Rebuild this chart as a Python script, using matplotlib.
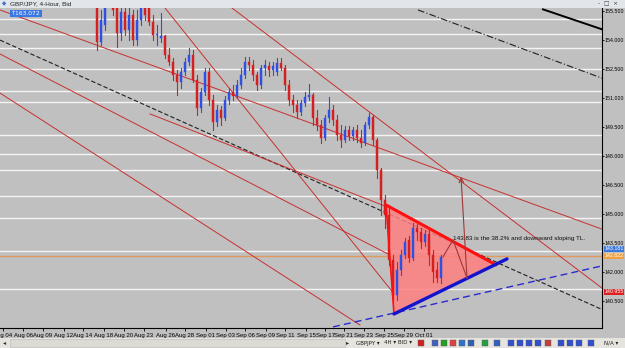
import matplotlib
matplotlib.use("Agg")
import matplotlib.pyplot as plt
from matplotlib.patches import Polygon, Rectangle
from matplotlib.transforms import blended_transform_factory
import numpy as np

# ---------------- data ----------------
opens  = [157.00,153.88,154.76,156.00,156.20,155.80,154.35,155.43,154.50,155.28,
          153.98,155.02,155.80,155.64,154.92,154.24,154.09,154.19,153.21,152.85,
          152.17,151.81,152.33,152.85,153.21,151.92,150.47,151.30,152.33,150.88,
          149.74,150.36,149.95,150.88,151.30,151.09,151.66,152.17,152.85,152.69,
          152.17,151.66,152.54,152.64,152.43,152.33,152.80,152.54,151.66,150.88,
          150.62,150.26,150.73,151.04,151.14,149.95,149.59,148.92,149.95,150.36,
          149.85,149.07,148.81,149.33,149.02,149.33,148.92,148.66,149.59,150.00,
          148.81,147.26,145.71,144.93,142.61,140.79,142.09,142.86,143.64,142.71,
          144.26,144.05,143.54,143.95,142.86,142.09,141.67]
highs  = [157.30,155.54,156.05,156.80,156.50,156.05,155.80,155.80,155.64,155.54,
          155.54,156.05,156.10,155.95,155.28,154.76,155.38,154.24,153.57,153.05,
          152.43,152.54,153.05,153.57,153.47,152.17,151.50,152.54,152.54,151.14,
          150.62,150.57,151.09,151.50,151.66,151.92,152.54,153.11,153.11,152.95,
          152.33,152.69,152.95,152.85,152.85,153.05,153.05,152.69,151.92,151.14,
          150.88,150.88,151.30,151.71,151.24,150.36,149.85,150.09,151.04,150.62,
          150.09,149.59,149.54,149.54,149.49,149.59,149.33,149.74,150.21,150.09,
          148.92,147.36,145.97,145.29,142.86,142.50,143.12,143.74,143.85,144.52,
          144.47,144.26,144.16,144.16,143.12,142.50,142.86]
lows   = [153.47,153.73,154.50,155.70,155.28,153.62,153.98,154.24,153.98,153.73,
          153.73,154.76,155.02,154.76,153.98,153.73,153.88,153.05,152.69,151.92,
          151.14,151.50,152.17,152.69,151.81,150.09,150.26,151.14,150.62,149.33,
          149.54,149.59,149.85,150.67,150.88,150.99,151.50,152.02,152.43,151.92,
          151.40,151.50,152.17,152.12,152.17,152.17,152.43,151.40,150.62,150.26,
          149.95,150.09,150.57,150.88,149.59,149.33,148.66,148.81,149.74,149.59,
          148.81,148.45,148.71,148.81,148.81,148.71,148.45,148.55,149.43,148.55,
          146.85,144.93,144.26,142.35,140.43,140.54,141.83,142.71,142.50,142.61,
          143.64,143.23,143.33,142.35,141.47,141.47,141.42]
closes = [153.88,155.02,155.80,156.30,155.54,154.35,155.43,154.50,155.28,153.98,
          155.02,155.64,155.28,154.92,154.24,154.30,154.19,153.21,152.85,152.17,
          151.81,152.33,152.85,153.21,151.92,150.47,151.30,152.33,150.88,149.74,
          150.36,149.95,150.88,151.30,151.09,151.66,152.17,152.85,152.69,152.17,
          151.66,152.54,152.69,152.43,152.64,152.80,152.54,151.66,150.88,150.62,
          150.26,150.73,151.04,151.14,149.95,149.59,148.92,149.95,150.36,149.85,
          149.07,148.81,149.33,149.02,149.33,148.92,148.66,149.59,150.00,148.81,
          147.26,145.71,144.93,142.61,140.79,142.09,142.86,143.54,142.71,144.26,
          144.05,143.54,143.95,142.86,141.98,141.67,142.76]

date_pos    = [-23.0,-18.0,-13.0,-7.75,-3.0,2.25,7.25,12.25,17.75,22.5,27.75,32.75,
               37.5,42.75,47.5,52.75,57.5,62.25,67.25,72.25,77.25,82.25]
date_labels = ["Aug 04","Aug 06","Aug 09","Aug 12","Aug 14","Aug 18","Aug 20","Aug 23",
               "Aug 26","Aug 28","Sep 01","Sep 03","Sep 06","Sep 09","Sep 11","Sep 15",
               "Sep 17","Sep 21","Sep 23","Sep 25","Sep 29","Oct 01"]
price_ticks  = [155.5,154.0,152.5,151.0,149.5,148.0,146.5,145.0,143.5,142.0,140.5]
price_labels = ["155.500","154.000","152.500","151.000","149.500","148.000",
                "146.500","145.000","143.500","142.000","140.500"]
level_lines  = [155.06,154.27,153.56,152.47,151.35,150.76,149.07,148.07,147.25,
                145.90,144.76,143.07,141.09]
orange_level = 142.822
bid_level    = 143.181
red_level    = 140.955

# trend lines: ((x0, p0), (x1, p1), colour, style, width)
trend_lines = [
    ((112.0,155.57),(127.0,154.52),'black','-',1.4),
    ((80.75,155.54),(127.0,151.99),'#202020',(0,(6,2,1,2)),0.8),
    ((-23.75,153.98),(127.0,140.02),'#202020',(0,(4,2)),0.8),
    ((-23.75,155.54),(127.0,144.18),'#c83030','-',0.7),
    ((34.25,155.64),(127.0,141.11),'#c83030','-',0.7),
    ((17.5,155.64),(75.0,140.79),'#c83030','-',0.7),
    ((-23.75,153.26),(73.75,142.86),'#c83030','-',0.7),
    ((-23.75,151.24),(66.25,139.24),'#c83030','-',0.7),
    ((13.75,150.16),(73.75,145.29),'#c83030','-',0.7),
]
triangle_x = [72.75,74.75,100.25]
triangle_p = [145.45,139.81,142.35]
blue_tl_x  = [74.75,103.0]
blue_tl_p  = [139.81,142.66]
blue_dash_x = [59.5,127.0]
blue_dash_p = [139.14,142.31]
zig_x = [87.0,89.5,93.0]
zig_p = [142.76,143.64,141.67]
arrow_tip = (91.5,146.9)
note_text = "143.83 is the 38.2% and downward sloping TL."
note_pos = (89.5,143.74)

# ---------------- figure ----------------
W, H = 625, 348
plt.rcParams['font.family'] = ['Liberation Sans', 'DejaVu Sans']
fig = plt.figure(figsize=(6.25, 3.48), dpi=100)
fig.patch.set_facecolor('#c0c0c0')

ax = fig.add_axes([0, 1 - 327.5 / H, 602 / W, (327.5 - 8) / H])
ax.set_facecolor('#c0c0c0')
ax.set_xlim(-23.75, 126.75)
ax.set_ylim(139.11, 155.64)

for lv in level_lines:
    ax.axhline(lv, color='#f4f4f4', lw=1.0, zorder=1)
ax.axhline(orange_level, color='#e09a60', lw=1.0, zorder=1)

for (a, b, c, ls, lw) in trend_lines:
    ax.plot([a[0], b[0]], [a[1], b[1]], color=c, ls=ls, lw=lw, zorder=2)

ax.add_patch(Polygon(list(zip(triangle_x, triangle_p)), closed=True,
                     facecolor='#ff8080', edgecolor='none', alpha=0.85, zorder=2.5))
ax.plot([triangle_x[0], triangle_x[2]], [triangle_p[0], triangle_p[2]],
        color='#ff1010', lw=2.2, zorder=5, solid_capstyle='round')
ax.plot([triangle_x[0], triangle_x[1]], [triangle_p[0], triangle_p[1]],
        color='#ff1010', lw=1.2, zorder=5)
ax.plot(blue_dash_x, blue_dash_p, color='#2a2ad0', ls=(0, (5, 3)), lw=1.0, zorder=3)

# candles
x = np.arange(len(opens)) + 0.5
for xi, o, h, l, c in zip(x, opens, highs, lows, closes):
    col = '#3050e0' if c >= o else '#d42020'
    ax.plot([xi, xi], [l, h], color=col, lw=0.8, zorder=3)
    ax.add_patch(Rectangle((xi - 0.35, min(o, c)), 0.7, max(abs(c - o), 0.04),
                           facecolor=col, edgecolor=col, lw=0.3, zorder=3.2))

ax.plot(blue_tl_x, blue_tl_p, color='#1414cc', lw=2.4, zorder=6, solid_capstyle='round')
ax.plot(zig_x, zig_p, color='#a03838', lw=0.8, zorder=6)
ax.annotate('', xy=arrow_tip, xytext=(zig_x[-1], zig_p[-1]),
            arrowprops=dict(arrowstyle='->', color='#a03838', lw=0.8,
                            shrinkA=0, shrinkB=0, mutation_scale=8), zorder=6)
ax.text(note_pos[0], note_pos[1], note_text, fontsize=4.6, color='#101010',
        va='center', ha='left', zorder=7)

# axes styling
for s in ['top', 'left']:
    ax.spines[s].set_visible(False)
ax.spines['right'].set_color('black')
ax.spines['bottom'].set_color('black')
ax.spines['right'].set_linewidth(0.8)
ax.spines['bottom'].set_linewidth(0.8)
ax.yaxis.tick_right()
ax.set_yticks(price_ticks)
ax.set_yticklabels(price_labels)
ax.tick_params(axis='y', length=1.6, width=0.6, pad=0.4, labelsize=3.8)
ax.set_xticks(date_pos)
ax.set_xticklabels(date_labels)
ax.tick_params(axis='x', length=2.5, width=0.6, pad=1.2, labelsize=4.3)

# price tags on the right axis
tr = blended_transform_factory(ax.transAxes, ax.transData)
for lv, txt, col, fc in [(bid_level, "143.181", 'white', '#3a78e0'),
                          (orange_level, "142.822", 'white', '#f0a040'),
                          (red_level, "140.955", 'white', '#e02020')]:
    ax.text(1.004, lv, txt, transform=tr, fontsize=3.8, color=col, va='center', ha='left',
            bbox=dict(boxstyle='square,pad=0.12', fc=fc, ec='none'), clip_on=False, zorder=8)

# window chrome
fig.patches.append(Rectangle((0, 1 - 8 / H), 1, 8 / H, transform=fig.transFigure,
                             facecolor='#e2e6eb', edgecolor='none', zorder=0.5))
fig.text(2 / W, 1 - 4 / H, "\u25c6", fontsize=4, color='#4070c0', va='center',
         family='DejaVu Sans')
fig.text(10 / W, 1 - 4 / H, "GBP/JPY, 4-Hour, Bid", fontsize=4.6, color='#202020', va='center')
fig.text(598 / W, 1 - 4 / H, "-  \u25a1  \u00d7", fontsize=4.2, color='#404040', va='center',
         family='DejaVu Sans')
fig.text(11 / W, 1 - 13.5 / H, "\u2191163.072", fontsize=4.3, color='white', va='center',
         family='DejaVu Sans',
         bbox=dict(boxstyle='square,pad=0.15', fc='#3a78e0', ec='none'))

# bottom toolbar
fig.patches.append(Rectangle((0, 0), 1, 10.5 / H, transform=fig.transFigure,
                             facecolor='#e6e4de', edgecolor='none', zorder=0.5))
fig.patches.append(Rectangle((10 / W, 1.5 / H), 335 / W, 8 / H, transform=fig.transFigure,
                             facecolor='#dcdad4', edgecolor='#b8b8b8', lw=0.4, zorder=0.6))
fig.text(3 / W, 5 / H, "\u25c2", fontsize=4.5, color='#303030', va='center',
         family='DejaVu Sans')
fig.text(346 / W, 5 / H, "\u25b8", fontsize=4.5, color='#303030', va='center',
         family='DejaVu Sans')
fig.text(356 / W, 5 / H, "GBPJPY \u25be", fontsize=4.0, color='#202020', va='center',
         family='DejaVu Sans')
fig.text(384 / W, 5 / H, "4H \u25be", fontsize=4.0, color='#202020', va='center',
         family='DejaVu Sans')
fig.text(398 / W, 5 / H, "BID \u25be", fontsize=4.0, color='#202020', va='center',
         family='DejaVu Sans')
fig.text(604 / W, 5 / H, "N/A \u25be", fontsize=4.0, color='#202020', va='center',
         family='DejaVu Sans')
for px, col in [(418, '#d02020'), (432, '#4060c0'), (441, '#20a020'), (450, '#e04040'),
                (459, '#3070d0'), (468, '#3060b0'), (482, '#20a040'), (494, '#3060c0'),
                (508, '#3050d0'), (517, '#3050d0'), (526, '#3050d0'), (535, '#3050d0'),
                (545, '#c04040'), (558, '#3050d0'), (567, '#3050d0'), (576, '#3050d0'),
                (588, '#3050d0')]:
    fig.patches.append(Rectangle((px / W, 2.5 / H), 6 / W, 6 / H, transform=fig.transFigure,
                                 facecolor=col, edgecolor='#606060', lw=0.3, zorder=0.7))

fig.savefig('out.png', dpi=100, facecolor=fig.get_facecolor())
